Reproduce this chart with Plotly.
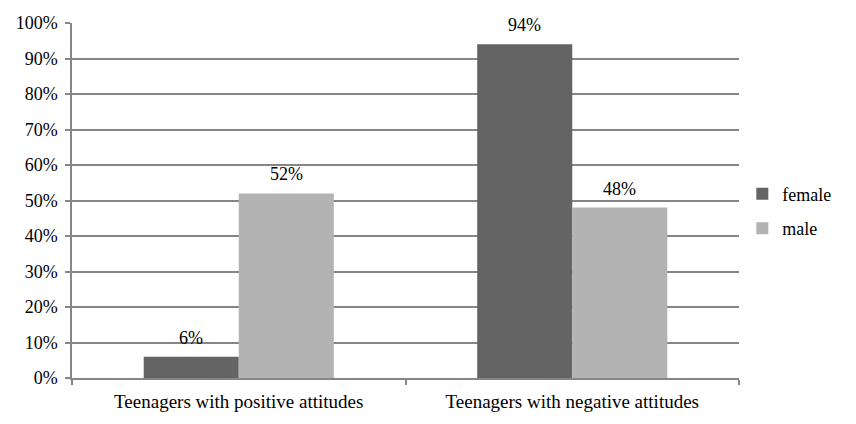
import plotly.graph_objects as go

categories = ["Teenagers with positive attitudes", "Teenagers with negative attitudes"]
female = [6, 94]
male = [52, 48]
tick_vals = list(range(0, 101, 10))
tick_text = [f"{v}%" for v in tick_vals]

FONT = "Liberation Serif, Times New Roman, serif"
GRID = "#868686"
BARGAP = 0.43

fig = go.Figure()
fig.add_trace(go.Bar(
    name="female", x=categories, y=female,
    marker=dict(color="#646464", line=dict(width=0)),
    legendgroup="f",
))
fig.add_trace(go.Bar(
    name="male", x=categories, y=male,
    marker=dict(color="#b3b3b3", line=dict(width=0)),
    legendgroup="m",
))

half = (1 - BARGAP) / 4
for series, off in ((female, -half), (male, half)):
    for i, v in enumerate(series):
        fig.add_annotation(
            x=i + off, y=v, xref="x", yref="y", text=f"{v}%",
            showarrow=False, yanchor="middle", yshift=19,
            font=dict(family=FONT, size=18, color="black"),
        )

fig.update_layout(
    width=856, height=424,
    margin=dict(l=72, r=117, t=23, b=46),
    paper_bgcolor="white", plot_bgcolor="white",
    barmode="group", bargap=BARGAP, bargroupgap=0,
    font=dict(family=FONT, size=18, color="black"),
    legend=dict(
        x=1.005, y=0.47, xanchor="left", yanchor="middle",
        font=dict(family=FONT, size=18, color="black"),
        tracegroupgap=8, bgcolor="rgba(0,0,0,0)",
    ),
    showlegend=True,
)
fig.update_yaxes(
    range=[0, 100], tickvals=tick_vals, ticktext=tick_text,
    showgrid=True, gridcolor=GRID, gridwidth=1.5,
    showline=True, linecolor=GRID, linewidth=1.5,
    ticks="outside", ticklen=5, tickcolor=GRID, tickwidth=1.5,
    ticklabelstandoff=4,
    tickfont=dict(family=FONT, size=18, color="black"),
    zeroline=False, fixedrange=True,
)
fig.update_xaxes(
    showline=True, linecolor=GRID, linewidth=1.5,
    ticks="outside", tickson="boundaries", ticklen=5, tickcolor=GRID, tickwidth=1.5,
    ticklabelstandoff=5,
    tickfont=dict(family=FONT, size=19, color="black"),
    showgrid=False,
)

fig.write_html("out.html")
